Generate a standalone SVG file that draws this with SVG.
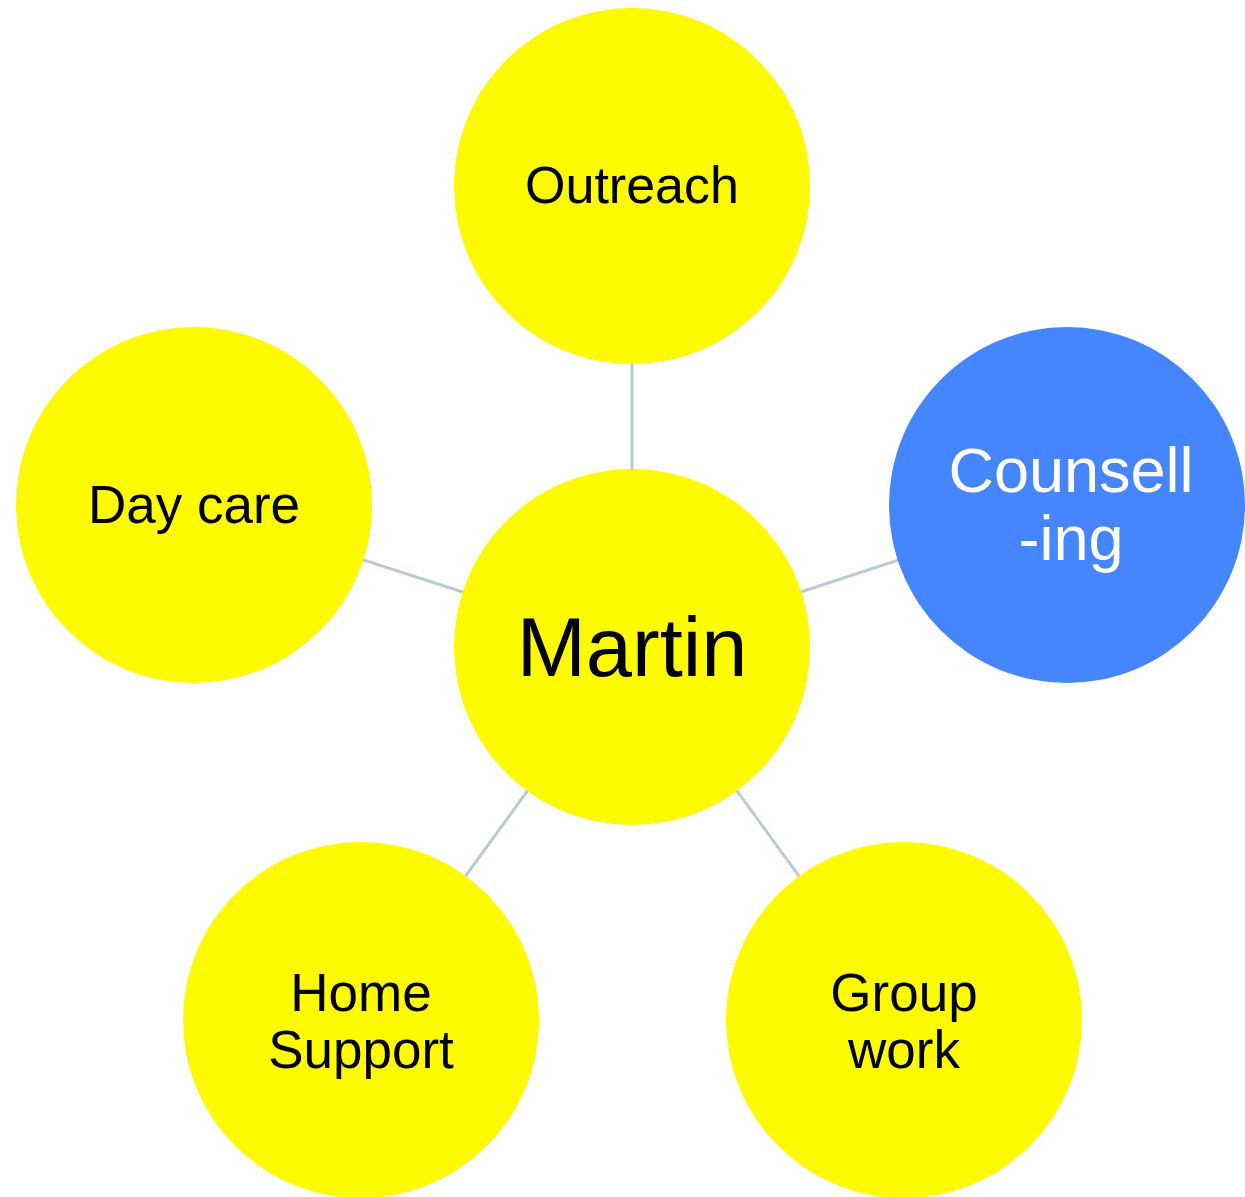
<svg xmlns="http://www.w3.org/2000/svg" width="1245" height="1197" viewBox="0 0 1245 1197">
<style>
.n{fill:#fefa00}
.b{fill:#4585fd}
.t{font-family:"Liberation Sans",Arial,sans-serif;fill:#000;text-anchor:middle}
.w{font-family:"Liberation Sans",Arial,sans-serif;fill:#fff;text-anchor:middle}
.c{stroke:#b9cbd0;stroke-width:3;fill:none}
</style>
<rect width="1245" height="1197" fill="#fff"/>
<g id="connectors">
<line class="c" x1="632" y1="186" x2="632" y2="647"/>
<line class="c" x1="194" y1="505" x2="632" y2="647"/>
<line class="c" x1="1067" y1="505" x2="632" y2="647"/>
<line class="c" x1="361" y1="1020" x2="632" y2="647"/>
<line class="c" x1="904" y1="1020" x2="632" y2="647"/>
</g>
<g id="outreach"><circle class="n" cx="632" cy="186" r="178"/><text class="t" x="632" y="203" font-size="52">Outreach</text></g>
<g id="martin"><circle class="n" cx="632" cy="647" r="178"/><text class="t" x="632" y="676" font-size="83">Martin</text></g>
<g id="daycare"><circle class="n" cx="194" cy="505" r="178"/><text class="t" x="194" y="523" font-size="53">Day care</text></g>
<g id="counselling"><circle class="b" cx="1067" cy="505" r="178"/><text class="w" x="1071" y="492" font-size="63">Counsell</text><text class="w" x="1071" y="560" font-size="63">-ing</text></g>
<g id="homesupport"><circle class="n" cx="361" cy="1020" r="178"/><text class="t" x="361" y="1011" font-size="53">Home</text><text class="t" x="361" y="1068" font-size="53">Support</text></g>
<g id="groupwork"><circle class="n" cx="904" cy="1020" r="178"/><text class="t" x="904" y="1011" font-size="53">Group</text><text class="t" x="904" y="1068" font-size="53">work</text></g>
</svg>
